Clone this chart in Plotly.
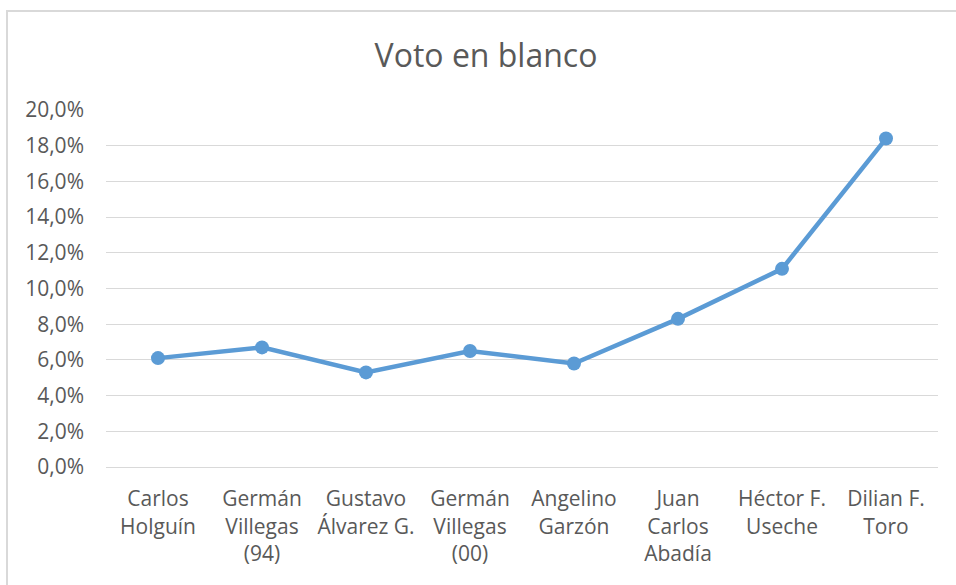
import plotly.graph_objects as go

categories = [
    "Carlos<br>Holguín",
    "Germán<br>Villegas<br>(94)",
    "Gustavo<br>Álvarez G.",
    "Germán<br>Villegas<br>(00)",
    "Angelino<br>Garzón",
    "Juan<br>Carlos<br>Abadía",
    "Héctor F.<br>Useche",
    "Dilian F.<br>Toro",
]
values = [0.061, 0.067, 0.053, 0.065, 0.058, 0.083, 0.111, 0.184]
y_ticks = [0.0, 0.02, 0.04, 0.06, 0.08, 0.10, 0.12, 0.14, 0.16, 0.18, 0.20]

FONT = "Open Sans"
TXT = "#595959"
GRID = "#D9D9D9"
BLUE = "#5B9BD5"

fig = go.Figure()
fig.add_trace(go.Scatter(
    x=categories, y=values, mode="lines+markers",
    line=dict(color=BLUE, width=4.5),
    marker=dict(color=BLUE, size=14),
    showlegend=False,
))

fig.update_layout(
    width=956, height=585,
    margin=dict(l=106, r=18, t=110, b=118),
    paper_bgcolor="white", plot_bgcolor="white",
    separators=",.",
    font=dict(family=FONT, color=TXT, size=21),
    title=dict(text="Voto en blanco", x=486 / 956, xanchor="center",
               y=1 - 56 / 585, yanchor="middle",
               font=dict(family=FONT, size=32, color=TXT)),
    xaxis=dict(
        showgrid=False, showline=True, linecolor=GRID, linewidth=1,
        ticks="", tickfont=dict(size=21, color=TXT), ticklabelstandoff=13,
        range=[-0.5, len(categories) - 0.5], fixedrange=True,
    ),
    yaxis=dict(
        range=[0, 0.2], tickvals=y_ticks, tickformat=".1%",
        showgrid=True, gridcolor=GRID, gridwidth=1, zeroline=False,
        showline=False, ticks="", tickfont=dict(size=21, color=TXT),
        ticklabelstandoff=21, fixedrange=True,
    ),
    shapes=[dict(
        type="path", xref="paper", yref="paper",
        path="M -0.119,-0.4 L -0.119,1.277 L 1.05,1.277",
        line=dict(color=GRID, width=2),
    )],
)

fig.write_html("out.html", config={"displayModeBar": False},
               post_script="document.body.style.margin='0px';")
